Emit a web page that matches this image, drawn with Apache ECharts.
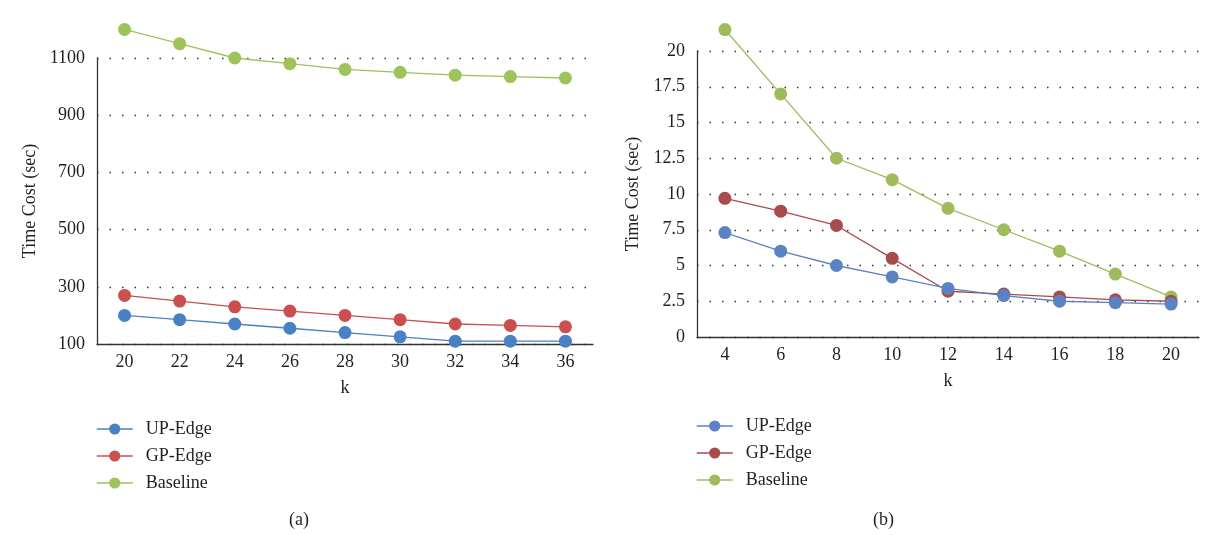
<!DOCTYPE html>
<html>
<head>
<meta charset="utf-8">
<script src="https://cdn.jsdelivr.net/npm/echarts@6/dist/echarts.min.js"></script>
<style>
  html, body { margin: 0; padding: 0; background: #fff; }
  #wrap { position: relative; width: 1208px; height: 535px; }
  #ca { position: absolute; left: 0; top: 0; width: 604px; height: 535px; }
  #cb { position: absolute; left: 604px; top: 0; width: 604px; height: 535px; }
</style>
</head>
<body>
<div id="wrap"><div id="ca"></div><div id="cb"></div></div>
<script>
// ---- Data: chart (a) ----
const kA = ['20', '22', '24', '26', '28', '30', '32', '34', '36'];
const upEdgeA = [200, 185, 170, 155, 140, 125, 110, 110, 110];
const gpEdgeA = [270, 250, 230, 215, 200, 185, 170, 165, 160];
const baselineA = [1200, 1150, 1100, 1080, 1060, 1050, 1040, 1035, 1030];

// ---- Data: chart (b) ----
const kB = ['4', '6', '8', '10', '12', '14', '16', '18', '20'];
const upEdgeB = [7.3, 6.0, 5.0, 4.2, 3.4, 2.9, 2.5, 2.4, 2.3];
const gpEdgeB = [9.7, 8.8, 7.8, 5.5, 3.2, 3.0, 2.8, 2.6, 2.5];
const baselineB = [21.5, 17.0, 12.5, 11.0, 9.0, 7.5, 6.0, 4.4, 2.8];

const seriesNames = ['UP-Edge', 'GP-Edge', 'Baseline'];
const FONT = 'Liberation Serif';
const TXT = '#231f20';

function makeOption(cfg) {
  const vals = [cfg.up, cfg.gp, cfg.base];
  return {
    animation: false,
    textStyle: { fontFamily: FONT, color: TXT },
    grid: cfg.grid,
    legend: {
      orient: 'vertical',
      left: cfg.legendLeft,
      top: cfg.legendTop,
      padding: 0,
      itemWidth: 36,
      itemHeight: 14,
      itemGap: 9,
      textStyle: { fontFamily: FONT, fontSize: 18, lineHeight: 18, color: TXT, padding: [0, 0, 0, 8] },
      data: seriesNames.map((n, i) => ({
        name: n,
        itemStyle: { color: cfg.colors[i] },
        lineStyle: { color: cfg.colors[i], width: 1.5 }
      }))
    },
    graphic: [{
      type: 'text',
      left: cfg.labelX,
      top: 511,
      style: { text: cfg.label, font: '18px "' + FONT + '"', fill: TXT }
    }],
    xAxis: {
      type: 'category',
      data: cfg.cats,
      boundaryGap: true,
      name: 'k',
      nameLocation: 'middle',
      nameGap: 35,
      nameTextStyle: { fontFamily: FONT, fontSize: 18, color: TXT },
      axisLine: { lineStyle: { color: '#333', width: 1.3 } },
      axisTick: { show: false },
      axisLabel: { fontFamily: FONT, fontSize: 18, color: TXT, margin: 9 }
    },
    yAxis: {
      type: 'value',
      min: cfg.min,
      max: cfg.max,
      interval: cfg.interval,
      name: 'Time Cost (sec)',
      nameLocation: 'middle',
      nameGap: cfg.nameGap,
      nameTextStyle: { fontFamily: FONT, fontSize: 18, color: TXT },
      axisLine: { show: true, lineStyle: { color: '#333', width: 1.3 } },
      axisTick: { show: false },
      axisLabel: { fontFamily: FONT, fontSize: 18, color: TXT, margin: 12, formatter: v => String(v) },
      splitLine: { show: true, lineStyle: { color: '#333', width: 1.4, type: [1.5, 11] } }
    },
    series: seriesNames.map((n, i) => ({
      name: n,
      type: 'line',
      data: vals[i],
      clip: false,
      symbol: 'circle',
      symbolSize: 13,
      itemStyle: { color: cfg.colors[i] },
      lineStyle: { color: cfg.colors[i], width: 1.3 },
      z: 3 - i
    }))
  };
}

const chartA = echarts.init(document.getElementById('ca'), null, { renderer: 'canvas' });
chartA.setOption(makeOption({
  cats: kA, up: upEdgeA, gp: gpEdgeA, base: baselineA,
  grid: { left: 97, width: 496, top: 58, height: 286 },
  min: 100, max: 1100, interval: 200, nameGap: 53,
  legendLeft: 96, legendTop: 420,
  colors: ['#4a80c4', '#c9504f', '#9dc35a'],
  label: '(a)', labelX: 289
}));

const chartB = echarts.init(document.getElementById('cb'), null, { renderer: 'canvas' });
chartB.setOption(makeOption({
  cats: kB, up: upEdgeB, gp: gpEdgeB, base: baselineB,
  grid: { left: 93, width: 502, top: 51, height: 286 },
  min: 0, max: 20, interval: 2.5, nameGap: 52,
  legendLeft: 92, legendTop: 417,
  colors: ['#5a82c4', '#a94b4a', '#9fbb5c'],
  label: '(b)', labelX: 269
}));
</script>
</body>
</html>
